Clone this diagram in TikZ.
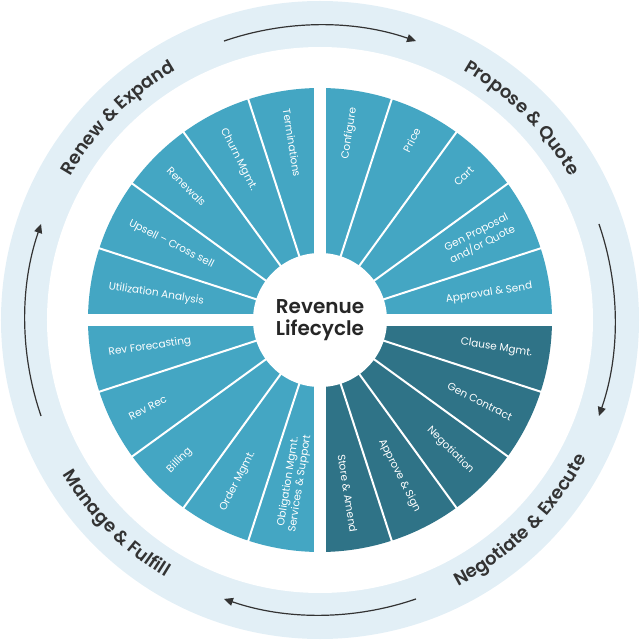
\documentclass[tikz,border=0pt]{standalone}
\usepackage{fontspec}
\setmainfont{Poppins}[BoldFont={Poppins SemiBold}]
\usetikzlibrary{arrows.meta,decorations.text}

\definecolor{ringblue}{HTML}{E2EFF6}
\definecolor{tealA}{HTML}{44A6C3}
\definecolor{tealB}{HTML}{2F7387}
\definecolor{inkgray}{HTML}{333333}

\newcommand{\phasefont}{\bfseries\fontsize{18}{18}\selectfont\color{inkgray}}

\begin{document}
\begin{tikzpicture}[
    seg/.style={draw=white, line width=2pt},
    gap/.style={draw=white, line width=12pt},
    inlbl/.style={text=white, font=\fontsize{10.5}{12}\selectfont,
                  inner sep=0pt, align=center},
    hub/.style={circle, fill=white, minimum size=134pt, align=center,
                text=black!85, font=\bfseries\fontsize{20}{22}\selectfont},
    cyc/.style={draw=inkgray, line width=1.2pt, -{Triangle[length=9pt,width=8pt]}},
    phase/.style={decorate, decoration={text along path, text align=center}}
]
\useasboundingbox (-320pt,-320pt) rectangle (320pt,320pt);

% --- Outer band ---
\fill[ringblue] (0,0) circle[radius=319pt];
\fill[white] (0,0) circle[radius=273pt];

% --- Sectors ---
\foreach \a in {0,18,...,252}
  \fill[tealA] (0,0) -- (\a:232pt) arc[start angle=\a, delta angle=18, radius=232pt] -- cycle;
\foreach \a in {270,288,...,342}
  \fill[tealB] (0,0) -- (\a:232pt) arc[start angle=\a, delta angle=18, radius=232pt] -- cycle;

% --- Dividers and gaps ---
\foreach \a in {18,36,...,342}
  \draw[seg] (0,0) -- (\a:234pt);
\draw[gap] (-236pt,0) -- (236pt,0);
\draw[gap] (0,-236pt) -- (0,236pt);

% --- Centre ---
\node[hub] (core) at (0,0) {Revenue\\Lifecycle};

% --- Right half labels ---
\foreach \a/\t in {81/Configure, 63/Price, 45/Cart,
                   27/{Gen Proposal\\and/or Quote}, 9/{Approval \& Send},
                   -9/{Clause Mgmt.}, -27/{Gen Contract}, -45/Negotiation,
                   -63/{Approve \& Sign}, -81/{Store \& Amend}}
  \node[inlbl, anchor=east, rotate=\a] at (\a:215pt) {\t};

% --- Left half labels ---
\foreach \a/\t in {99/Terminations, 117/{Churn Mgmt.}, 135/Renewals,
                   153/{Upsell -- Cross sell}, 171/{Utilization Analysis},
                   189/{Rev Forecasting}, 207/{Rev Rec}, 225/Billing,
                   243/{Order Mgmt.}, 261/{Obligation Mgmt.\\Services \& Support}}
  \node[inlbl, anchor=west, rotate=\a-180] at (\a:214pt) {\t};

% --- Cycle arrows ---
\foreach \m in {90,0,-90,-180}
  \draw[cyc] ({\m+19}:295pt) arc[start angle={\m+19}, delta angle=-38, radius=295pt];

% --- Phase labels ---
\path[phase, decoration={text={|\phasefont|Propose {\&} Quote}}]
    (75:288pt) arc[start angle=75, end angle=15, radius=288pt];
\path[phase, decoration={text={|\phasefont|Renew {\&} Expand}}]
    (165:288pt) arc[start angle=165, end angle=105, radius=288pt];
\path[phase, decoration={text={|\phasefont|Negotiate {\&} Execute}}]
    (-75:300pt) arc[start angle=-75, end angle=-15, radius=300pt];
\path[phase, decoration={text={|\phasefont|Manage {\&} Fulfill}}]
    (-165:300pt) arc[start angle=-165, end angle=-105, radius=300pt];

\end{tikzpicture}
\end{document}
